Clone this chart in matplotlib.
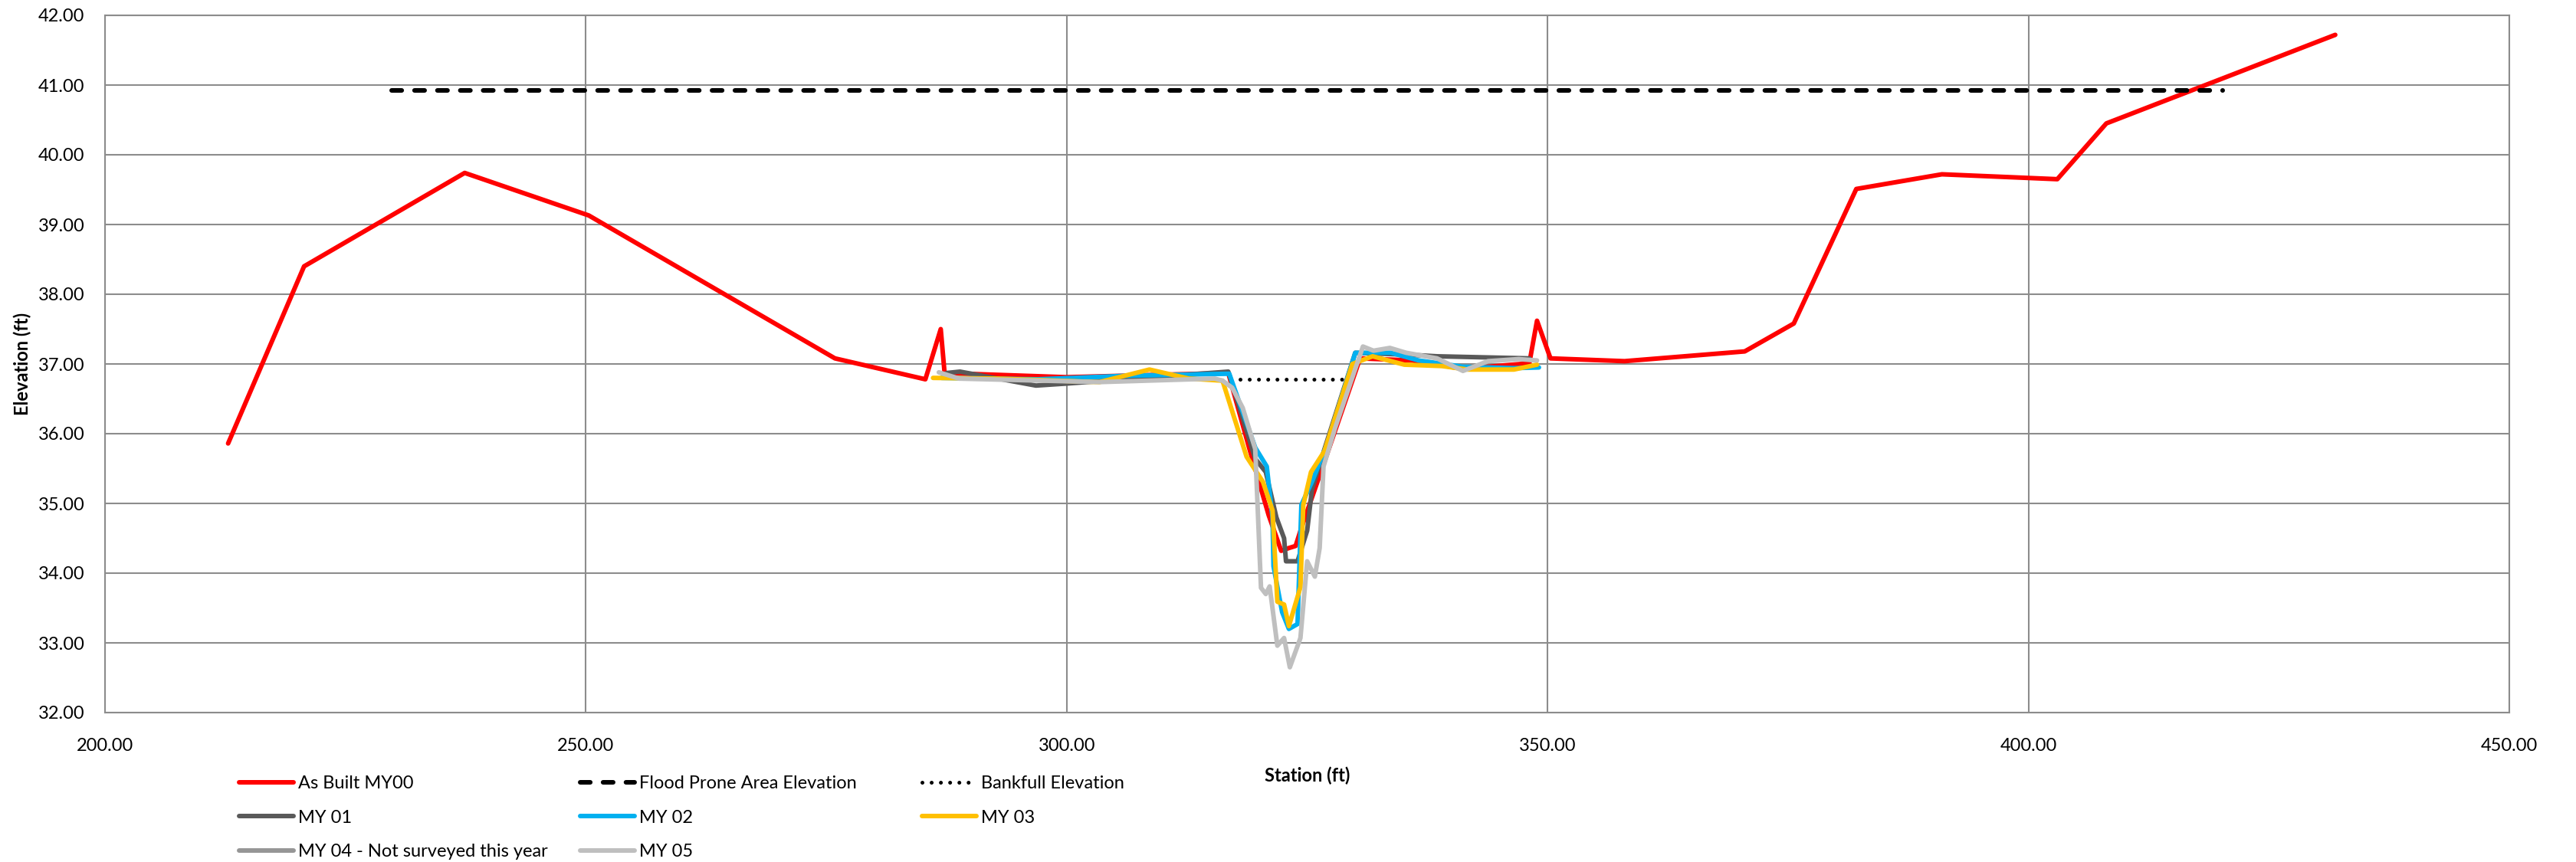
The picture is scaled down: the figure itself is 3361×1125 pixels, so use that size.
import matplotlib as mpl
mpl.use("Agg")
import matplotlib.pyplot as plt
from matplotlib.ticker import MultipleLocator, FormatStrFormatter

plt.rcParams['font.family'] = ['Lato', 'DejaVu Sans']

# cross-section survey data, station (ft) vs elevation (ft)
station_my00 = [212.8, 220.7, 237.4, 250.3, 275.9, 285.3, 286.9, 287.3, 300.0, 316.8,
                319.0, 321.0, 322.3, 323.1, 323.8, 324.4, 326.7, 330.5, 335.9, 341.2,
                348.1, 348.9, 350.3, 358.0, 370.5, 375.6, 382.1, 391.0, 403.0, 408.1, 431.9]
elev_my00 = [35.86, 38.40, 39.74, 39.13, 37.08, 36.78, 37.50, 36.87, 36.81, 36.87,
             35.78, 34.83, 34.32, 34.36, 34.39, 34.65, 35.56, 37.08, 37.05, 36.93,
             37.01, 37.62, 37.08, 37.04, 37.18, 37.58, 39.51, 39.72, 39.65, 40.45, 41.72]

station_my01 = [287.5, 288.9, 296.8, 300.1, 316.8, 319.6, 320.7, 321.8, 322.6, 322.8,
                324.0, 325.0, 325.5, 326.8, 330.0, 335.9, 338.5, 348.1]
elev_my01 = [36.87, 36.89, 36.69, 36.72, 36.89, 35.64, 35.45, 34.80, 34.50, 34.17,
             34.17, 34.61, 35.20, 35.78, 37.16, 37.13, 37.11, 37.08]

station_my02 = [287.0, 297.0, 306.0, 316.9, 319.6, 320.8, 321.4, 321.5, 322.4, 323.1,
                324.0, 324.4, 325.5, 327.1, 330.0, 333.7, 336.6, 341.2, 346.5, 349.1]
elev_my02 = [36.80, 36.78, 36.83, 36.86, 35.80, 35.53, 34.79, 34.10, 33.44, 33.20,
             33.27, 34.98, 35.31, 35.86, 37.16, 37.16, 37.05, 36.96, 36.94, 36.95]

station_my03 = [286.1, 292.8, 303.4, 308.6, 312.7, 316.2, 318.7, 320.4, 321.4, 321.9,
                322.6, 323.1, 324.3, 324.6, 325.4, 326.8, 329.7, 331.8, 335.1, 339.0,
                341.7, 346.5, 348.9]
elev_my03 = [36.80, 36.79, 36.74, 36.92, 36.79, 36.76, 35.67, 35.31, 34.90, 33.59,
             33.55, 33.24, 33.80, 34.98, 35.45, 35.75, 37.00, 37.11, 36.99, 36.97,
             36.92, 36.92, 36.99]

station_my05 = [286.7, 288.8, 303.4, 315.4, 316.2, 317.2, 318.3, 319.6, 320.2, 320.7,
                321.1, 321.9, 322.6, 323.2, 324.3, 325.0, 325.8, 326.3, 326.7, 327.9,
                330.8, 331.9, 333.6, 335.3, 338.5, 341.2, 343.8, 347.0, 348.9]
elev_my05 = [36.88, 36.79, 36.74, 36.79, 36.76, 36.66, 36.37, 35.78, 33.79, 33.70,
             33.81, 32.96, 33.07, 32.65, 33.07, 34.17, 33.95, 34.36, 35.53, 36.08,
             37.25, 37.19, 37.23, 37.16, 37.08, 36.90, 37.04, 37.07, 37.05]

flood_station = [229.8, 420.2]
flood_elev = [40.92, 40.92]
bankfull_station = [318.0, 328.7]
bankfull_elev = [36.78, 36.78]

W, H = 3361, 1125
fig = plt.figure(figsize=(W / 100, H / 100), dpi=100)
ax = fig.add_axes([137 / W, 1 - 930 / H, (3274 - 137) / W, (930 - 20) / H])

lw = 4.3
ax.plot(station_my00, elev_my00, color='#FF0000', lw=lw, solid_joinstyle='round',
        solid_capstyle='round', label='As Built MY00')
ax.plot(flood_station, flood_elev, color='black', lw=lw, linestyle=(0, (2.2, 2.8)),
        dash_capstyle='round', label='Flood Prone Area Elevation')
ax.plot(bankfull_station, bankfull_elev, color='black', lw=3.6, linestyle=(0, (0.01, 2.4)),
        dash_capstyle='round', label='Bankfull Elevation')
ax.plot(station_my01, elev_my01, color='#595959', lw=lw, solid_joinstyle='round',
        solid_capstyle='round', label='MY 01')
ax.plot(station_my02, elev_my02, color='#00B0F0', lw=lw, solid_joinstyle='round',
        solid_capstyle='round', label='MY 02')
ax.plot(station_my03, elev_my03, color='#FFC000', lw=lw, solid_joinstyle='round',
        solid_capstyle='round', label='MY 03')
# MY 04 was not surveyed: legend entry only
ax.plot([], [], color='#969696', lw=lw, solid_capstyle='round',
        label='MY 04 - Not surveyed this year')
ax.plot(station_my05, elev_my05, color='#BFBFBF', lw=lw, solid_joinstyle='round',
        solid_capstyle='round', label='MY 05')

ax.set_xlim(200, 450)
ax.set_ylim(32, 42)
ax.xaxis.set_major_locator(MultipleLocator(50))
ax.yaxis.set_major_locator(MultipleLocator(1))
ax.xaxis.set_major_formatter(FormatStrFormatter('%.2f'))
ax.yaxis.set_major_formatter(FormatStrFormatter('%.2f'))
ax.grid(True, color='#8C8C8C', lw=1.5)
ax.set_axisbelow(True)
for s in ax.spines.values():
    s.set_color('#8C8C8C')
    s.set_linewidth(1.5)
ax.tick_params(length=0, labelsize=17, colors='black')
ax.tick_params(axis='x', pad=24)
ax.tick_params(axis='y', pad=19)

ax.set_xlabel('Station (ft)', fontsize=17, fontweight='bold', labelpad=12)
ax.set_ylabel('Elevation (ft)', fontsize=17, fontweight='bold', labelpad=6)

handles, labels = ax.get_legend_handles_labels()
cols = [[0, 3, 6], [1, 4, 7], [2, 5]]
col_x = [312, 757, 1203]
for idx, x0 in zip(cols, col_x):
    fig.legend([handles[i] for i in idx], [labels[i] for i in idx],
               loc='upper left', bbox_to_anchor=(x0 / W, 1 - 1012 / H),
               frameon=False, fontsize=17, handlelength=3.0, handletextpad=0.25,
               borderpad=0, borderaxespad=0, labelspacing=1.0)

fig.savefig('out.png', dpi=100)
